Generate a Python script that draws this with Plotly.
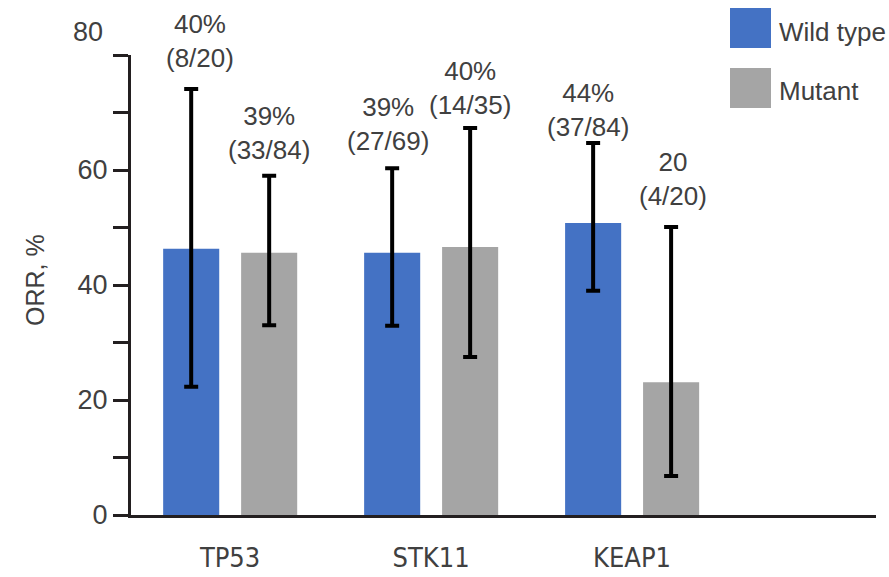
import plotly.graph_objects as go

# ---- data ----
genes = ["TP53", "STK11", "KEAP1"]
wt_orr = [46.3, 45.6, 50.8]
wt_upper = [74.1, 60.3, 64.7]
wt_lower = [22.3, 32.9, 39.0]
mut_orr = [45.6, 46.6, 23.1]
mut_upper = [59.0, 67.3, 50.1]
mut_lower = [33.0, 27.5, 6.8]
wt_labels = ["40%<br>(8/20)", "39%<br>(27/69)", "44%<br>(37/84)"]
mut_labels = ["39%<br>(33/84)", "40%<br>(14/35)", "20<br>(4/20)"]
series_names = ["Wild type", "Mutant"]
y_ticks = [0, 20, 40, 60, 80]

BLUE = "#4472C4"
GRAY = "#A5A5A5"
TXT = "#404040"
AX = "#231f20"
FONT = "Liberation Sans, Arial, sans-serif"

W, H = 889, 577
L, R, T, B = 131, 13, 55, 62
pw, ph = W - L - R, H - T - B


def px_x(px):
    return (px - L) / pw


def px_y(py):
    return (H - B - py) / ph


err_style = dict(type="data", symmetric=False, color="black", thickness=4, width=7)

fig = go.Figure()
fig.add_trace(go.Bar(
    x=list(range(len(genes))), y=wt_orr, name=series_names[0],
    marker=dict(color=BLUE, line=dict(width=0)),
    width=0.279, offset=-0.333,
    error_y=dict(array=[u - v for u, v in zip(wt_upper, wt_orr)],
                 arrayminus=[v - l for v, l in zip(wt_orr, wt_lower)], **err_style),
))
fig.add_trace(go.Bar(
    x=list(range(len(genes))), y=mut_orr, name=series_names[1],
    marker=dict(color=GRAY, line=dict(width=0)),
    width=0.279, offset=0.055,
    error_y=dict(array=[u - v for u, v in zip(mut_upper, mut_orr)],
                 arrayminus=[v - l for v, l in zip(mut_orr, mut_lower)], **err_style),
))

annotations = []
# value labels above the bars (pixel-derived label positions)
wt_label_pos = [(200, 41), (388, 124), (588, 109.5)]
mut_label_pos = [(269, 132.5), (470, 87.5), (673, 179)]
for txt, (px, py) in zip(wt_labels + mut_labels, wt_label_pos + mut_label_pos):
    annotations.append(dict(
        text=txt, xref="paper", yref="paper", x=px_x(px), y=px_y(py),
        xanchor="center", yanchor="middle", showarrow=False,
        font=dict(family=FONT, size=26, color=TXT)))

# "80" tick label drawn above its tick as in the reference
annotations.append(dict(text=str(y_ticks[-1]), xref="paper", yref="paper",
                        x=px_x(105), y=px_y(32), xanchor="right", yanchor="middle",
                        showarrow=False, font=dict(family=FONT, size=27, color=TXT)))
# y-axis title
annotations.append(dict(text="ORR, %", xref="paper", yref="paper",
                        x=px_x(35), y=px_y(280), xanchor="center", yanchor="middle",
                        textangle=-90, showarrow=False,
                        font=dict(family=FONT, size=25, color=TXT)))
# legend text
for name, py in zip(series_names, [32, 91]):
    annotations.append(dict(text=name, xref="paper", yref="paper",
                            x=px_x(777), y=px_y(py), xanchor="left", yanchor="middle",
                            showarrow=False, font=dict(family=FONT, size=26, color=TXT)))

shapes = []
for col, (y0, y1) in zip([BLUE, GRAY], [(8, 48), (68, 108)]):
    shapes.append(dict(type="rect", xref="paper", yref="paper",
                       x0=px_x(730), x1=px_x(771), y0=px_y(y1), y1=px_y(y0),
                       fillcolor=col, line=dict(width=0)))

fig.update_layout(
    width=W, height=H,
    margin=dict(l=L, r=R, t=T, b=B),
    paper_bgcolor="white", plot_bgcolor="white",
    barmode="overlay", showlegend=False,
    annotations=annotations, shapes=shapes,
    font=dict(family=FONT, color=TXT),
)
fig.update_xaxes(
    range=[-0.493, 3.214], tickvals=list(range(len(genes))), ticktext=genes,
    showgrid=False, zeroline=False, showline=True, linecolor=AX, linewidth=3,
    ticks="", ticklabelstandoff=17, automargin=False,
    tickfont=dict(family="Liberation Sans Narrow, DejaVu Sans Condensed, Arial Narrow, sans-serif",
                  size=27, color=TXT),
)
fig.update_yaxes(
    range=[0, 80], tickvals=y_ticks, ticktext=[str(v) for v in y_ticks[:-1]] + [""],
    showgrid=False, zeroline=False, showline=True, linecolor=AX, linewidth=3,
    ticks="outside", ticklen=15, tickwidth=3, tickcolor=AX, automargin=False,
    minor=dict(ticks="outside", ticklen=15, tickwidth=3, tickcolor=AX, dtick=10, tick0=0),
    tickfont=dict(family=FONT, size=27, color=TXT),
)

fig.write_html("out.html")
